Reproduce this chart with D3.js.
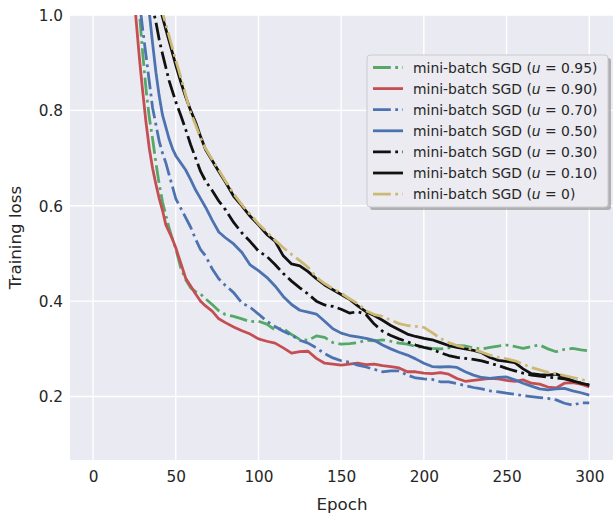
<!DOCTYPE html>
<html>
<head>
<meta charset="utf-8">
<script src="https://cdn.jsdelivr.net/npm/d3@7"></script>
<style>
  html, body { margin: 0; padding: 0; background: #ffffff; }
  svg { display: block; font-family: "DejaVu Sans", sans-serif; }
</style>
</head>
<body>
<svg id="chart" width="613" height="514"></svg>
<script>
// ---------------- data ----------------
const epochs = [22,24,26,28,30,32,34,36,38,40,42,44,46,48,50,
  53,56,59,62,65,68,72,76,80,85,90,95,100,
  105,110,115,120,125,130,135,140,145,150,155,160,165,170,175,180,185,190,195,200,
  205,210,215,220,225,230,235,240,245,250,255,260,265,270,275,280,285,290,295,300];

const lossU095 = [1.30,1.20,1.10,1.005,0.92,0.845,0.785,0.74,0.69,0.645,0.608,0.58,0.553,0.53,0.51,
  0.47,0.445,0.428,0.42,0.415,0.405,0.393,0.38,0.372,0.368,0.363,0.357,0.358,
  0.352,0.34,0.343,0.33,0.32,0.318,0.327,0.324,0.313,0.31,0.311,0.313,0.318,0.317,0.319,0.316,0.312,0.31,0.305,0.303,
  0.301,0.30,0.302,0.307,0.306,0.302,0.30,0.303,0.306,0.308,0.305,0.301,0.305,0.308,0.30,0.294,0.299,0.301,0.298,0.296];

const lossU090 = [1.18,1.08,0.99,0.91,0.84,0.775,0.72,0.678,0.645,0.615,0.59,0.56,0.545,0.53,0.512,
  0.48,0.448,0.432,0.415,0.40,0.39,0.379,0.363,0.355,0.346,0.338,0.331,0.321,
  0.316,0.312,0.302,0.291,0.294,0.295,0.28,0.27,0.268,0.266,0.268,0.27,0.267,0.268,0.265,0.263,0.26,0.252,0.252,0.249,
  0.248,0.25,0.247,0.238,0.232,0.234,0.236,0.238,0.237,0.234,0.232,0.235,0.228,0.226,0.22,0.218,0.228,0.229,0.226,0.22];

const lossU070 = [1.25,1.16,1.09,1.03,0.97,0.915,0.86,0.805,0.77,0.735,0.71,0.69,0.665,0.64,0.615,
  0.595,0.575,0.555,0.53,0.508,0.495,0.468,0.447,0.433,0.418,0.396,0.387,0.373,
  0.358,0.347,0.337,0.329,0.318,0.312,0.302,0.29,0.281,0.275,0.272,0.266,0.262,0.257,0.252,0.254,0.254,0.245,0.239,0.237,
  0.236,0.231,0.231,0.227,0.223,0.219,0.216,0.212,0.21,0.207,0.205,0.202,0.20,0.198,0.196,0.193,0.186,0.182,0.187,0.187];

const lossU050 = [1.50,1.42,1.33,1.24,1.15,1.07,1.005,0.94,0.88,0.83,0.79,0.765,0.74,0.72,0.705,
  0.69,0.675,0.655,0.633,0.615,0.597,0.57,0.545,0.533,0.52,0.502,0.476,0.464,
  0.45,0.432,0.41,0.393,0.381,0.377,0.373,0.358,0.342,0.333,0.328,0.325,0.322,0.318,0.308,0.30,0.293,0.287,0.279,0.27,
  0.263,0.262,0.263,0.261,0.252,0.245,0.24,0.238,0.24,0.241,0.235,0.228,0.222,0.216,0.214,0.216,0.217,0.212,0.208,0.203];

const lossU030 = [1.35,1.29,1.23,1.18,1.13,1.09,1.05,1.015,0.985,0.948,0.918,0.89,0.862,0.84,0.818,
  0.79,0.76,0.728,0.70,0.672,0.652,0.632,0.61,0.592,0.565,0.543,0.525,0.505,
  0.494,0.477,0.458,0.442,0.428,0.415,0.40,0.392,0.389,0.383,0.375,0.378,0.372,0.352,0.337,0.328,0.321,0.315,0.308,0.303,
  0.299,0.292,0.286,0.282,0.28,0.278,0.275,0.27,0.265,0.259,0.254,0.249,0.245,0.243,0.241,0.239,0.237,0.233,0.228,0.224];

const lossU010 = [1.42,1.36,1.30,1.25,1.20,1.16,1.12,1.08,1.05,1.02,0.995,0.97,0.945,0.92,0.895,
  0.86,0.828,0.80,0.775,0.745,0.718,0.695,0.672,0.65,0.62,0.60,0.578,0.56,
  0.54,0.526,0.495,0.478,0.474,0.462,0.447,0.434,0.424,0.414,0.404,0.39,0.378,0.37,0.36,0.349,0.34,0.331,0.326,0.322,
  0.319,0.313,0.307,0.303,0.30,0.297,0.292,0.282,0.276,0.274,0.271,0.258,0.248,0.246,0.245,0.247,0.24,0.233,0.228,0.224];

const lossU0 = [1.45,1.38,1.32,1.26,1.21,1.16,1.12,1.085,1.055,1.03,1.005,0.98,0.955,0.93,0.905,
  0.87,0.832,0.795,0.77,0.742,0.72,0.697,0.675,0.652,0.625,0.602,0.582,0.562,
  0.545,0.528,0.512,0.498,0.485,0.471,0.45,0.437,0.426,0.417,0.405,0.395,0.38,0.372,0.368,0.36,0.353,0.349,0.347,0.345,
  0.334,0.322,0.313,0.307,0.303,0.298,0.293,0.287,0.282,0.279,0.275,0.268,0.261,0.256,0.251,0.248,0.244,0.24,0.236,0.231];

const seriesLabels = ["0.95","0.90","0.70","0.50","0.30","0.10","0"];
const seriesValues = [lossU095, lossU090, lossU070, lossU050, lossU030, lossU010, lossU0];
const seriesColors = ["#55a868","#c44e52","#4c72b0","#4c72b0","#111111","#111111","#ccb974"];
const seriesDashed = [true,false,true,false,true,false,true];

const xTicks = [0,50,100,150,200,250,300];
const yTicks = [0.2,0.4,0.6,0.8,1.0];

// ---------------- layout ----------------
const svg = d3.select("#chart");
const pL = 70, pR = 614, pT = 15, pB = 460;
const x = d3.scaleLinear().domain([-13.95, 314.95]).range([pL, pR]);
const y = d3.scaleLinear().domain([0.067, 1.0]).range([pB, pT]);
const lw = 2.78;
const dashdot = [6.4*lw, 1.6*lw, 1.0*lw, 1.6*lw].join(",");
const textColor = "#262626";

svg.append("rect").attr("x", pL).attr("y", pT)
  .attr("width", pR - pL).attr("height", pB - pT).attr("fill", "#eaeaf2");

svg.append("defs").append("clipPath").attr("id", "clip")
  .append("rect").attr("x", pL).attr("y", pT)
  .attr("width", pR - pL).attr("height", pB - pT);

// grid
const grid = svg.append("g");
grid.selectAll("line.gx").data(xTicks).join("line")
  .attr("x1", d => x(d)).attr("x2", d => x(d)).attr("y1", pT).attr("y2", pB)
  .attr("stroke", "#ffffff").attr("stroke-width", 1.39);
grid.selectAll("line.gy").data(yTicks).join("line")
  .attr("x1", pL).attr("x2", pR).attr("y1", d => y(d)).attr("y2", d => y(d))
  .attr("stroke", "#ffffff").attr("stroke-width", 1.39);

// axes (labels only, seaborn darkgrid style)
const xAxis = d3.axisBottom(x).tickValues(xTicks).tickSize(0).tickPadding(0).tickFormat(d3.format("d"));
const gx = svg.append("g").attr("transform", `translate(0,${pB})`).call(xAxis);
gx.select(".domain").remove();
gx.selectAll("text").attr("fill", textColor).attr("font-size", "15.3px")
  .attr("font-family", "DejaVu Sans").attr("dy", null).attr("y", 21.5);

const yAxis = d3.axisLeft(y).tickValues(yTicks).tickSize(0).tickPadding(0).tickFormat(d3.format(".1f"));
const gy = svg.append("g").attr("transform", `translate(${pL},0)`).call(yAxis);
gy.select(".domain").remove();
gy.selectAll("text").attr("fill", textColor).attr("font-size", "15.3px")
  .attr("font-family", "DejaVu Sans").attr("x", -7).attr("dy", "0.35em");

svg.append("text").attr("x", (pL + pR) / 2).attr("y", 510)
  .attr("text-anchor", "middle").attr("font-size", "16.7px").attr("fill", textColor)
  .text("Epoch");
svg.append("text").attr("transform", `translate(20.5,${(pT + pB) / 2}) rotate(-90)`)
  .attr("text-anchor", "middle").attr("font-size", "16.7px").attr("fill", textColor)
  .text("Training loss");

// lines
const line = d3.line().x(d => x(d[0])).y(d => y(d[1]));
const lines = svg.append("g").attr("clip-path", "url(#clip)");
seriesValues.forEach((vals, i) => {
  const pts = epochs.map((e, j) => [e, vals[j]]);
  lines.append("path").datum(pts).attr("d", line)
    .attr("fill", "none").attr("stroke", seriesColors[i]).attr("stroke-width", lw)
    .attr("stroke-linejoin", "round")
    .attr("stroke-dasharray", seriesDashed[i] ? dashdot : null);
});

// legend
const lg = svg.append("g");
const lx = 367, ly = 55, lwid = 241, lh = 152;
lg.append("rect").attr("x", lx + 3).attr("y", ly + 3).attr("width", lwid).attr("height", lh)
  .attr("rx", 3).attr("fill", "#7f7f7f").attr("opacity", 0.55);
lg.append("rect").attr("x", lx).attr("y", ly).attr("width", lwid).attr("height", lh)
  .attr("rx", 3).attr("fill", "#ebebf1").attr("stroke", "#cccccc").attr("stroke-width", 1);
seriesLabels.forEach((lab, i) => {
  const cy = 67.5 + i * 21.1;
  lg.append("line").attr("x1", 373).attr("x2", 403).attr("y1", cy).attr("y2", cy)
    .attr("stroke", seriesColors[i]).attr("stroke-width", lw)
    .attr("stroke-dasharray", seriesDashed[i] ? dashdot : null);
  const t = lg.append("text").attr("x", 413).attr("y", cy + 5)
    .attr("font-size", "13.9px").attr("fill", textColor);
  t.append("tspan").text("mini-batch SGD (");
  t.append("tspan").attr("font-style", "italic").text("u");
  t.append("tspan").text(" = " + lab + ")");
});
</script>
</body>
</html>
